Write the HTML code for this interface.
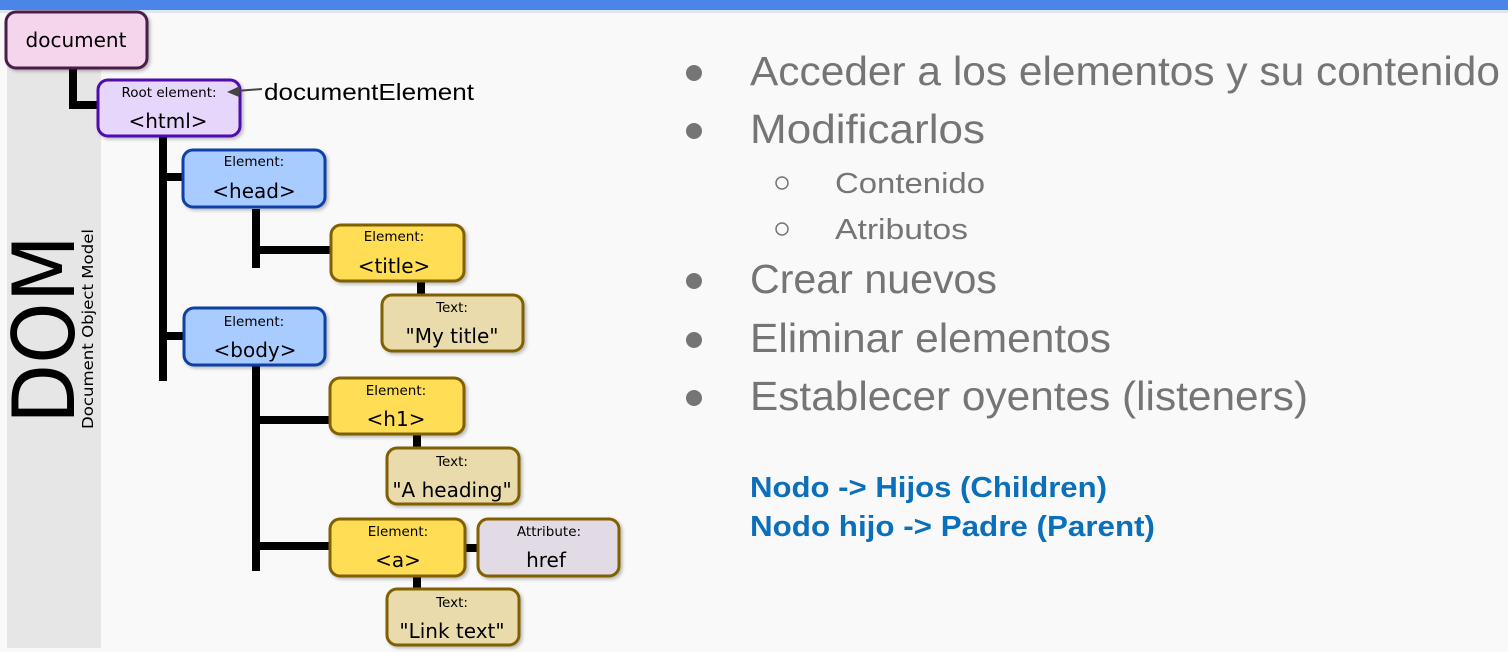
<!DOCTYPE html>
<html><head><meta charset="utf-8"><style>
html,body{margin:0;padding:0;background:#f9f9f9;}
svg{display:block}
</style></head><body>
<svg width="1508" height="652" xmlns="http://www.w3.org/2000/svg" font-family="DejaVu Sans, Liberation Sans, sans-serif">
<defs><filter id="sh" x="-10%" y="-10%" width="130%" height="130%"><feDropShadow dx="2" dy="2" stdDeviation="1.5" flood-color="#000" flood-opacity="0.25"/></filter></defs>
<rect x="0" y="0" width="1508" height="652" fill="#f9f9f9"/>
<rect x="0" y="0" width="1508" height="10" fill="#4a86e8"/>
<rect x="0" y="10" width="1508" height="3" fill="#dde6f5"/>
<rect x="7" y="13" width="94" height="635" fill="#e6e6e6"/>
<text transform="translate(74,424) rotate(-90)" font-size="86" textLength="189" lengthAdjust="spacingAndGlyphs" fill="#000">DOM</text>
<text transform="translate(93,429) rotate(-90)" font-size="15" textLength="200" lengthAdjust="spacingAndGlyphs" fill="#000">Document Object Model</text>
<g stroke="#000" stroke-width="8" fill="none">
<path d="M73 68 V105 H100"/>
<path d="M163 136 V381"/>
<path d="M163 177 H184"/>
<path d="M163 336 H185"/>
<path d="M256 209 V268"/>
<path d="M256 250 H332"/>
<path d="M421 282 V296"/>
<path d="M256 366 V571"/>
<path d="M256 420 H331"/>
<path d="M256 546 H331"/>
<path d="M417 435 V449"/>
<path d="M417 577 V590"/>
<path d="M466 548 H478"/>
</g>
<g stroke-width="3" filter="url(#sh)">
<rect x="6" y="12" width="141" height="56" rx="10" fill="#f5d5ec" stroke="#4a1a4a"/>
<rect x="98" y="80" width="142" height="56" rx="10" fill="#e6d6fb" stroke="#5010b0"/>
<rect x="183" y="150" width="142" height="57" rx="10" fill="#a8ccff" stroke="#1040a8"/>
<rect x="184" y="308" width="141" height="57" rx="10" fill="#a8ccff" stroke="#1040a8"/>
<rect x="331" y="225" width="133" height="56" rx="10" fill="#ffdd55" stroke="#806000"/>
<rect x="382" y="295" width="141" height="56" rx="10" fill="#e9dbab" stroke="#806000"/>
<rect x="330" y="378" width="134" height="56" rx="10" fill="#ffdd55" stroke="#806000"/>
<rect x="387" y="448" width="132" height="56" rx="10" fill="#e9dbab" stroke="#806000"/>
<rect x="330" y="519" width="135" height="57" rx="10" fill="#ffdd55" stroke="#806000"/>
<rect x="478" y="519" width="141" height="57" rx="10" fill="#e2dae4" stroke="#806000"/>
<rect x="387" y="589" width="132" height="56" rx="10" fill="#e9dbab" stroke="#806000"/>
</g>
<g fill="#000" text-anchor="middle">
<text x="76" y="47" font-size="20">document</text>
<text x="169" y="97" font-size="13.5">Root element:</text>
<text x="168" y="128" font-size="20">&lt;html&gt;</text>
<text x="254" y="166" font-size="13.5">Element:</text>
<text x="254" y="198" font-size="20">&lt;head&gt;</text>
<text x="254" y="326" font-size="13.5">Element:</text>
<text x="255" y="357" font-size="20">&lt;body&gt;</text>
<text x="394" y="241" font-size="13.5">Element:</text>
<text x="394" y="273" font-size="20">&lt;title&gt;</text>
<text x="452" y="312" font-size="13.5">Text:</text>
<text x="452" y="343" font-size="20">"My title"</text>
<text x="396" y="395" font-size="13.5">Element:</text>
<text x="396" y="426" font-size="20">&lt;h1&gt;</text>
<text x="452" y="466" font-size="13.5">Text:</text>
<text x="452" y="497" font-size="20">"A heading"</text>
<text x="398" y="536" font-size="13.5">Element:</text>
<text x="398" y="567" font-size="20">&lt;a&gt;</text>
<text x="549" y="536" font-size="13.5">Attribute:</text>
<text x="546" y="567" font-size="20">href</text>
<text x="452" y="607" font-size="13.5">Text:</text>
<text x="452" y="638" font-size="20">"Link text"</text>
</g>
<path d="M262 89 L236 91" stroke="#444" stroke-width="2"/>
<path d="M227 92 L240 86 L239 97 Z" fill="#444"/>
<text x="264" y="100" font-family="Liberation Sans, sans-serif" font-size="23" textLength="210" lengthAdjust="spacingAndGlyphs" fill="#000">documentElement</text>
<g font-family="Liberation Sans, sans-serif" fill="#757575">
<circle cx="694" cy="73" r="8"/><circle cx="694" cy="131" r="8"/>
<circle cx="694" cy="281" r="8"/><circle cx="694" cy="340" r="8"/><circle cx="694" cy="398" r="8"/>
<circle cx="782" cy="183" r="6" fill="none" stroke="#757575" stroke-width="1.5"/>
<circle cx="782" cy="229" r="6" fill="none" stroke="#757575" stroke-width="1.5"/>
<text x="750" y="85" font-size="41" textLength="750" lengthAdjust="spacingAndGlyphs">Acceder a los elementos y su contenido</text>
<text x="750" y="143" font-size="41" textLength="235" lengthAdjust="spacingAndGlyphs">Modificarlos</text>
<text x="835" y="193" font-size="29" textLength="150" lengthAdjust="spacingAndGlyphs">Contenido</text>
<text x="835" y="239" font-size="29" textLength="133" lengthAdjust="spacingAndGlyphs">Atributos</text>
<text x="750" y="293" font-size="41" textLength="247" lengthAdjust="spacingAndGlyphs">Crear nuevos</text>
<text x="750" y="352" font-size="41" textLength="361" lengthAdjust="spacingAndGlyphs">Eliminar elementos</text>
<text x="750" y="410" font-size="41" textLength="558" lengthAdjust="spacingAndGlyphs">Establecer oyentes (listeners)</text>
</g>
<g font-family="Liberation Sans, sans-serif" font-weight="bold" fill="#0b6fba" font-size="29">
<text x="750" y="497" textLength="357" lengthAdjust="spacingAndGlyphs">Nodo -&gt; Hijos (Children)</text>
<text x="750" y="536" textLength="405" lengthAdjust="spacingAndGlyphs">Nodo hijo -&gt; Padre (Parent)</text>
</g>
</svg>
</body></html>
